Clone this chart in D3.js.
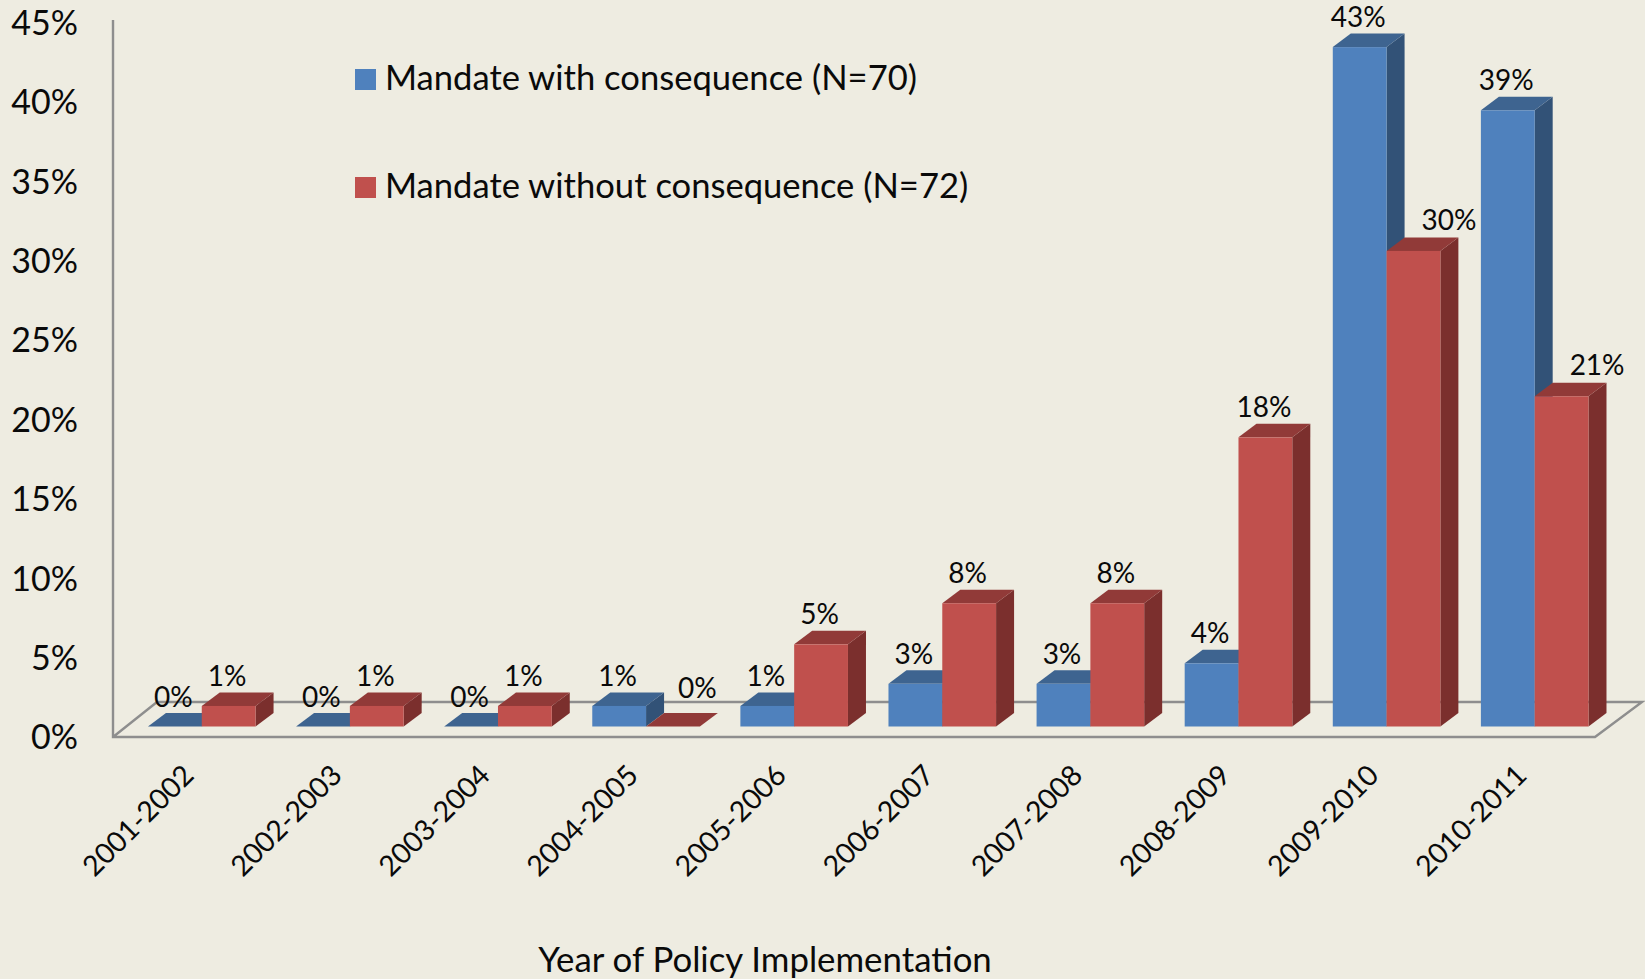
<!DOCTYPE html>
<html><head><meta charset="utf-8">
<script src="https://cdn.jsdelivr.net/npm/d3@7/dist/d3.min.js"></script>
<style>html,body{margin:0;padding:0;background:#eeece1}svg{display:block}text{font-family:Lato,"Open Sans",sans-serif;fill:#0a0a0a}</style>
</head><body><svg id="c" width="1645" height="979"></svg>
<script>
const years=["2001-2002","2002-2003","2003-2004","2004-2005","2005-2006","2006-2007","2007-2008","2008-2009","2009-2010","2010-2011"];
const withConsequence=[0,0,0,1.3,1.3,2.7,2.7,4,43,39];
const withoutConsequence=[1.3,1.3,1.3,0,5.2,7.8,7.8,18.3,30.1,20.9];
const seriesNames=["Mandate with consequence (N=70)","Mandate without consequence (N=72)"];
const yTicks=[0,5,10,15,20,25,30,35,40,45];

const W=1645,H=979,svg=d3.select("#c");
const left=113,right=1595,floorFront=737,floorBack=702,base=726.5,dx=18,dy=13.5,unit=15.8;
const palette=[{f:"#4f81bd",s:"#325277",t:"#3e6490"},{f:"#c0504d",s:"#7b2f2d",t:"#913a38"}];
const x=d3.scaleBand().domain(years).range([left,right]).paddingInner(.2735).paddingOuter(.14).align(.843);
const xs=d3.scaleBand().domain([0,1]).range([0,x.bandwidth()]);
const y=d3.scaleLinear().domain([0,45]).range([base,base-45*unit]);
const yAxisScale=d3.scaleLinear().domain([0,45]).range([floorFront-0.3,floorFront-0.3-45*15.88]);

svg.append("rect").attr("width",W).attr("height",H).attr("fill","#eeece1");

// floor and wall
svg.append("path").attr("d",`M${left},20V${floorFront}H${right}L${right+47},${floorBack}H${left+44}L${left},${floorFront}`)
  .attr("fill","none").attr("stroke","#8e8e8e").attr("stroke-width",2.4);

// bars
const g=svg.append("g");
years.forEach((yr,i)=>{
  [withConsequence[i],withoutConsequence[i]].forEach((v,k)=>{
    const c=palette[k],x0=x(yr)+xs(k),x1=x0+xs.bandwidth(),top=y(v);
    g.append("path").attr("fill",c.s).attr("d",`M${x1},${top}L${x1+dx},${top-dy}V${base-dy}L${x1},${base}Z`);
    g.append("path").attr("fill",c.t).attr("d",`M${x0},${top}L${x0+dx},${top-dy}H${x1+dx}L${x1},${top}Z`);
    if(v>0) g.append("rect").attr("x",x0).attr("y",top).attr("width",x1-x0).attr("height",base-top).attr("fill",c.f);
  });
});

// data labels
years.forEach((yr,i)=>{
  const a=withConsequence[i],b=withoutConsequence[i];
  [a,b].forEach((v,k)=>{
    let nx=0,ny=0;
    if(k===1&&a>b){ if(b===0){nx=26;ny=-9;} else {nx=37;ny=-1;} }
    g.append("text").attr("x",x(yr)+xs(k)+xs.bandwidth()/2-1.5+nx).attr("y",y(v)-dy-6.5+ny)
     .attr("text-anchor","middle").attr("font-size",28).text(Math.round(v)+"%");
  });
});

// y axis
const ya=svg.append("g").attr("transform","translate(78,0)")
  .call(d3.axisLeft(yAxisScale).tickValues(yTicks).tickSize(0).tickPadding(0).tickFormat(d=>d+"%"));
ya.select(".domain").remove();
ya.selectAll("text").attr("font-size",34).attr("dy","0.36em").style("font-family","Lato").style("fill","#0a0a0a");

// x axis
const xa=svg.append("g").attr("transform",`translate(0,${floorFront})`)
  .call(d3.axisBottom(x).tickSize(0).tickFormat(d=>d));
xa.select(".domain").remove();
xa.selectAll("text").attr("font-size",28.5).attr("text-anchor","end").attr("dy",0).attr("y",0).attr("x",0)
  .attr("transform",`translate(${x.bandwidth()*.5-60},40) rotate(-45)`)
  .style("font-family","Lato").style("fill","#0a0a0a");

// legend
seriesNames.forEach((n,i)=>{
  const ly=69+i*108;
  svg.append("rect").attr("x",355).attr("y",ly).attr("width",21).attr("height",21).attr("fill",palette[i].f);
  svg.append("text").attr("x",385).attr("y",ly+21).attr("font-size",34.6).text(n);
});
svg.append("text").attr("x",765).attr("y",972).attr("text-anchor","middle").attr("font-size",34.8).text("Year of Policy Implementation");
</script></body></html>
